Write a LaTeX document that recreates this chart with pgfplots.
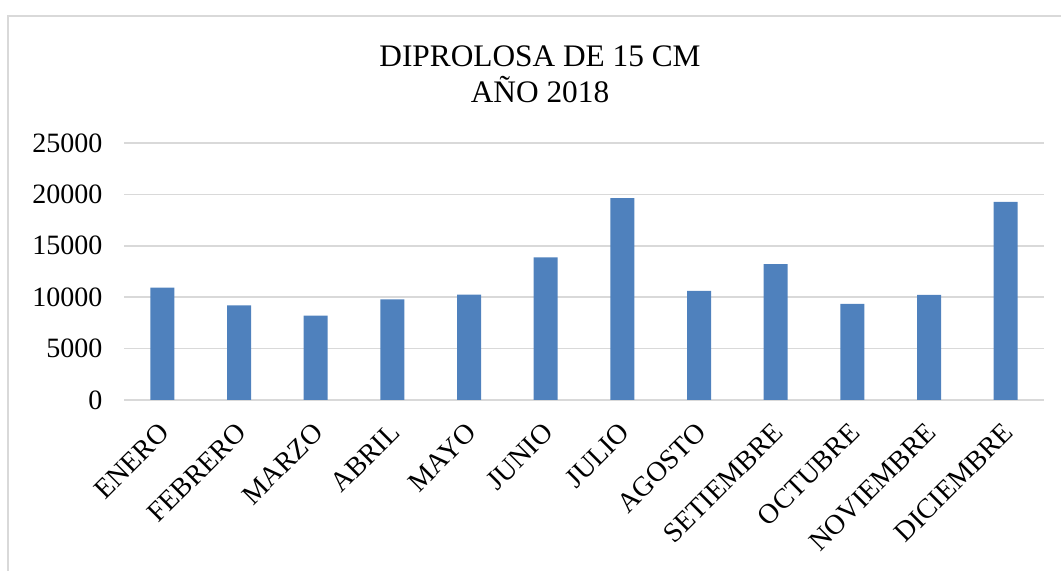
\documentclass[border=0pt]{standalone}
\usepackage{fontspec}
\setmainfont{Liberation Serif}
\usepackage{pgfplots}
\pgfplotsset{compat=1.18}
\definecolor{barblue}{HTML}{4F81BD}
\definecolor{gridgray}{HTML}{D9D9D9}
\begin{document}
\begin{tikzpicture}[x=0.75pt,y=0.75pt]
\path[use as bounding box] (0,0) rectangle (1061,571);
\clip (0,0) rectangle (1061,571);
\draw[gridgray, line width=1.2pt] (8,-20) rectangle (1075,555);
\node[font=\fontsize{23.5}{28}\selectfont, anchor=base, inner sep=0pt] at (540,504) {DIPROLOSA DE 15 CM};
\node[font=\fontsize{23.5}{28}\selectfont, anchor=base, inner sep=0pt] at (540,468) {AÑO 2018};
\begin{axis}[
    at={(93pt,128.25pt)}, anchor=south west,
    scale only axis, width=690pt, height=192.75pt,
    ybar, bar width=18pt,
    xmin=-0.5, xmax=11.5, ymin=0, ymax=25000,
    xtick={0,...,11},
    xticklabels={ENERO, FEBRERO, MARZO, ABRIL, MAYO, JUNIO, JULIO, AGOSTO, SETIEMBRE, OCTUBRE, NOVIEMBRE, DICIEMBRE},
    ytick={0,5000,...,25000},
    scaled y ticks=false,
    /pgf/number format/assume math mode=true,
    yticklabel={\pgfmathprintnumber[fixed,1000 sep={}]{\tick}},
    ymajorgrids, grid style={gridgray, line width=1.1pt},
    axis line style={draw=none}, major tick style={draw=none},
    yticklabel style={font=\fontsize{21}{24}\selectfont, anchor=east, inner sep=0pt, xshift=-16pt},
    xticklabel style={font=\fontsize{21}{24}\selectfont, rotate=45, anchor=north east, inner sep=0pt, xshift=-10.4pt, yshift=-6pt},
]
\addplot[fill=barblue, draw=none] coordinates {
    (0,10940) (1,9210) (2,8200) (3,9800) (4,10250) (5,13870)
    (6,19630) (7,10610) (8,13220) (9,9340) (10,10220) (11,19270)};
\end{axis}
\end{tikzpicture}
\end{document}
